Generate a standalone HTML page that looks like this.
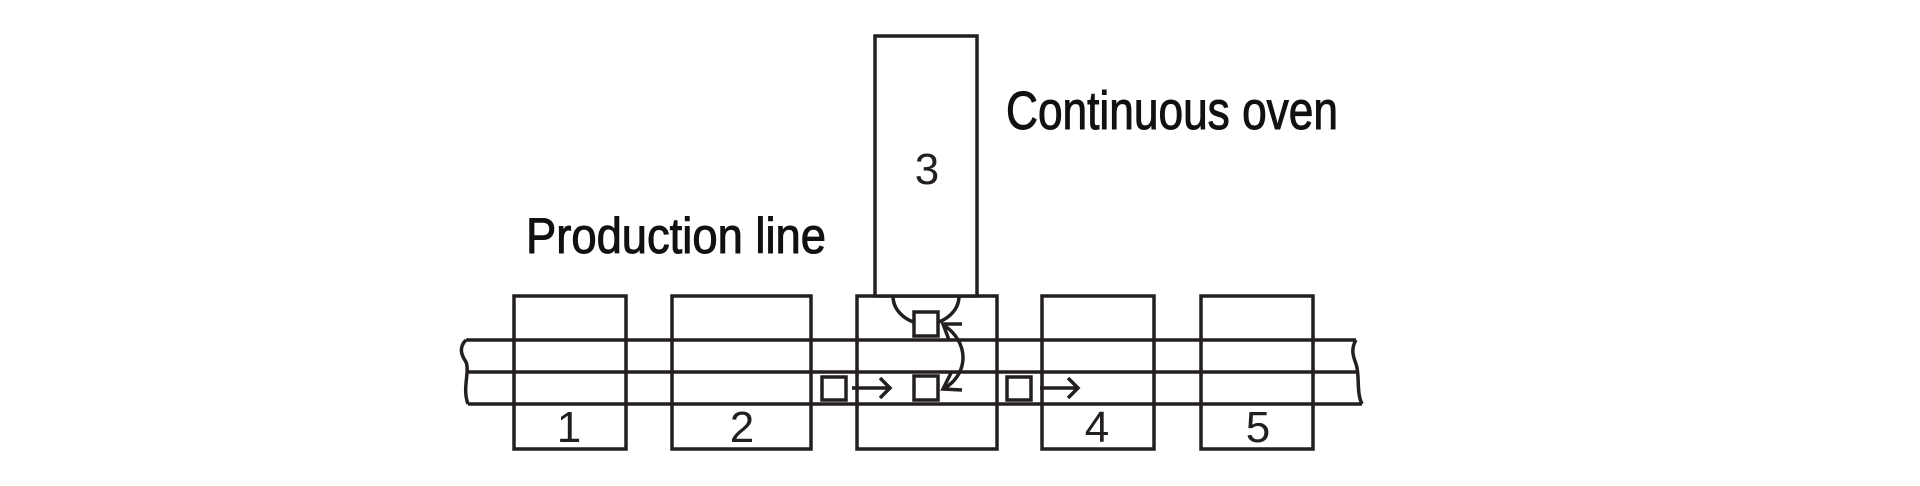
<!DOCTYPE html>
<html><head><style>html,body{margin:0;padding:0;background:#fff;}svg{display:block}</style></head>
<body>
<svg width="1920" height="486" viewBox="0 0 1920 486" xmlns="http://www.w3.org/2000/svg">
<g fill="none" stroke="#231f20" stroke-width="3.5">
<line x1="466" y1="340" x2="1356" y2="340"/>
<line x1="466" y1="372" x2="1356" y2="372"/>
<line x1="468" y1="404" x2="1362" y2="404"/>
<path d="M466 340 C458 348,462 356,466 362 C470 372,462 388,468 404"/>
<path d="M1356 340 C1350 350,1354 358,1356 364 C1360 375,1356 392,1362 404"/>
<rect x="514" y="296" width="112" height="153"/>
<rect x="672" y="296" width="139" height="153"/>
<rect x="857" y="296" width="140" height="153"/>
<rect x="1042" y="296" width="112" height="153"/>
<rect x="1201" y="296" width="112" height="153"/>
<rect x="875" y="36" width="102" height="260" fill="#fff"/>
<path d="M893 296 A33 28 0 0 0 959 296"/>
<rect x="914" y="312" width="24" height="24" fill="#fff"/>
<rect x="914" y="376" width="24" height="24"/>
<rect x="822" y="377" width="24" height="23"/>
<rect x="1007" y="377" width="24" height="23"/>
<path d="M852 388 H890 M880 378 L890 388 L880 398"/>
<path d="M1040 388 H1078 M1068 378 L1078 388 L1068 398"/>
<path d="M945 326 C968 342,970 372,945 388"/>
<path d="M962 324 L943 324 L949 340"/>
<path d="M962 390 L943 389 L951 373"/>
</g>
<g font-family="Liberation Sans, sans-serif" fill="#111" stroke="#111" stroke-width="1">
<text x="526" y="253" font-size="50" textLength="300" lengthAdjust="spacingAndGlyphs">Production line</text>
<text x="1006" y="129" font-size="54" textLength="332" lengthAdjust="spacingAndGlyphs">Continuous oven</text>
</g>
<g font-family="Liberation Sans, sans-serif" fill="#231f20" font-size="44" text-anchor="middle">
<text x="927" y="184">3</text>
<text x="569" y="442">1</text>
<text x="742" y="442">2</text>
<text x="1097" y="442">4</text>
<text x="1258" y="442">5</text>
</g>
</svg>
</body></html>
